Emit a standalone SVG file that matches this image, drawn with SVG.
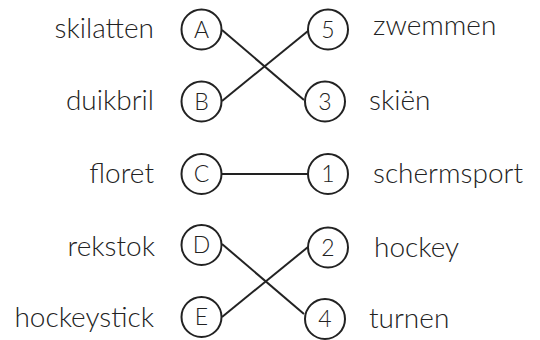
<svg xmlns="http://www.w3.org/2000/svg" width="540" height="340" viewBox="0 0 540 340">
<style>
.n circle{fill:#fff;stroke:#222;stroke-width:2}
.n text{font-family:Lato,"Liberation Sans",sans-serif;font-weight:300;fill:#222}
.n text.c{font-size:23px;text-anchor:middle}
.n text.l{font-size:28px;text-anchor:end}
.n text.r{font-size:28px;text-anchor:start}
#edges line{stroke:#222;stroke-width:2}
</style>
<rect width="540" height="340" fill="#fff"/>
<g id="edges">
<line x1="222" y1="30" x2="304" y2="100"/>
<line x1="222" y1="101" x2="308" y2="31"/>
<line x1="221" y1="174" x2="308" y2="174"/>
<line x1="222" y1="244" x2="304" y2="314"/>
<line x1="222" y1="317" x2="308" y2="247"/>
</g>
<g id="nA" class="n"><circle cx="201.5" cy="29.5" r="20"/><text class="c" x="201.5" y="37.5">A</text><text class="l" x="154" y="37.5">skilatten</text></g>
<g id="nB" class="n"><circle cx="201.5" cy="101.5" r="20"/><text class="c" x="201.5" y="109.5">B</text><text class="l" x="154" y="110">duikbril</text></g>
<g id="nC" class="n"><circle cx="201.5" cy="174" r="20"/><text class="c" x="201.5" y="182">C</text><text class="l" x="154" y="183">floret</text></g>
<g id="nD" class="n"><circle cx="201.5" cy="245" r="20"/><text class="c" x="201.5" y="253">D</text><text class="l" x="155" y="256">rekstok</text></g>
<g id="nE" class="n"><circle cx="201.5" cy="317" r="20"/><text class="c" x="201.5" y="325">E</text><text class="l" x="154" y="327">hockeystick</text></g>
<g id="n5" class="n"><circle cx="328" cy="29.5" r="20"/><text class="c" x="328" y="37.5">5</text><text class="r" x="373" y="35">zwemmen</text></g>
<g id="n3" class="n"><circle cx="325" cy="101.5" r="20"/><text class="c" x="325" y="109.5">3</text><text class="r" x="369" y="110">skiën</text></g>
<g id="n1" class="n"><circle cx="328" cy="174" r="20"/><text class="c" x="328" y="182">1</text><text class="r" x="373" y="183">schermsport</text></g>
<g id="n2" class="n"><circle cx="328" cy="247.5" r="20"/><text class="c" x="328" y="255.5">2</text><text class="r" x="374" y="256.5">hockey</text></g>
<g id="n4" class="n"><circle cx="325" cy="319" r="20"/><text class="c" x="325" y="327">4</text><text class="r" x="369" y="327.5">turnen</text></g>
</svg>
